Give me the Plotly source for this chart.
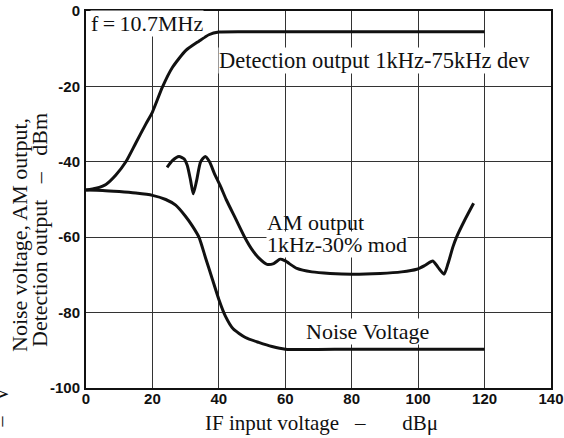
import plotly.graph_objects as go

# ---- data ----
det_x = [0, 3, 6, 9, 12, 15, 18, 20, 23, 26, 30, 34, 37, 40, 50, 60, 80, 100, 120]
det_y = [-47.5, -47.0, -46.0, -43.5, -40.0, -35.0, -30.0, -26.8, -20.2, -15.0, -10.5, -8.0, -6.3, -5.6, -5.5, -5.5, -5.5, -5.5, -5.5]

noise_x = [0, 5, 10, 15, 20, 24, 27, 30, 32, 34, 36, 38, 40, 42, 44.3, 48, 52, 56, 60, 80, 100, 120]
noise_y = [-47.5, -47.6, -47.9, -48.3, -48.9, -50.0, -51.5, -54.5, -57.0, -60.0, -65.5, -71.0, -76.5, -81.0, -84.3, -86.6, -87.9, -89.0, -89.7, -89.7, -89.7, -89.7]

am_x = [24.4, 26, 28, 29.5, 30.5, 31.5, 32.3, 33.3, 34.5, 35.9, 37.2, 38.6, 40.5, 42.2, 45, 47.9, 50, 52,
        54.5, 56.5, 58.5, 60, 63.5, 68, 73.5, 80, 88.6, 95, 99.6, 102, 104.4, 106, 107.8, 109, 110.5,
        111.6, 114, 116.7]
am_y = [-41.5, -39.7, -38.6, -39.2, -41.0, -45.0, -48.5, -45.0, -40.0, -38.6, -40.0, -43.0, -46.5, -50.0,
        -55.0, -60.2, -63.3, -65.5, -67.2, -67.0, -65.8, -66.3, -68.3, -69.2, -69.6, -69.8, -69.6, -69.2,
        -68.5, -67.5, -66.3, -68.0, -69.8, -67.0, -62.5, -59.9, -55.5, -51.0]

x_ticks = [0, 20, 40, 60, 80, 100, 120, 140]
x_tick_labels = ["0", "20", "40", "60", "80", "100", "120", "140"]
y_ticks = [0, -20, -40, -60, -80, -100]
y_tick_labels = ["0", "-20", "-40", "-60", "-80", "-100"]

W, H = 564, 438
ML, MR, MT, MB = 86, 13, 11, 50
PW, PH = W - ML - MR, H - MT - MB


def px_to_paper_x(px):
    return (px - ML) / PW


def px_to_paper_y(py):
    return (H - MB - py) / PH


SERIF = "Liberation Serif, Times New Roman, serif"
LINE = dict(color="#111111", width=3, shape="spline", smoothing=0.6)

fig = go.Figure()
fig.add_trace(go.Scatter(x=det_x, y=det_y, mode="lines", line=LINE, hoverinfo="skip"))
fig.add_trace(go.Scatter(x=noise_x, y=noise_y, mode="lines", line=LINE, hoverinfo="skip"))
fig.add_trace(go.Scatter(x=am_x, y=am_y, mode="lines", line=LINE, hoverinfo="skip"))

axis_common = dict(
    showline=True, linecolor="#111111", linewidth=2, mirror=True, automargin=False,
    showgrid=True, gridcolor="#333333", gridwidth=1, zeroline=False,
    ticks="", tickfont=dict(family="Liberation Sans, Arial, sans-serif", size=15, color="#111111", weight="bold"),
)
fig.update_xaxes(range=[0, 140], tickmode="array", tickvals=x_ticks, ticktext=x_tick_labels,
                 ticklabelstandoff=-4, **axis_common)
fig.update_yaxes(range=[-100, 0], tickmode="array", tickvals=y_ticks, ticktext=y_tick_labels,
                 ticklabelstandoff=1, **axis_common)

anns = []
tf = dict(family=SERIF, size=22, color="#111111")
anns.append(dict(text="f\u2009=\u200910.7MHz", xref="paper", yref="paper",
                 x=px_to_paper_x(90), y=px_to_paper_y(23), xanchor="left", yanchor="middle",
                 showarrow=False, font=tf, bgcolor="white", borderpad=0))
anns.append(dict(text="Detection output 1kHz-75kHz dev", xref="paper", yref="paper",
                 x=px_to_paper_x(218), y=px_to_paper_y(60), xanchor="left", yanchor="middle",
                 showarrow=False, font=dict(family=SERIF, size=22.5, color="#111111"),
                 bgcolor="white", borderpad=0))
anns.append(dict(text="1kHz-30% mod", xref="paper", yref="paper",
                 x=px_to_paper_x(266), y=px_to_paper_y(244), xanchor="left", yanchor="middle",
                 showarrow=False, font=tf, bgcolor="white", borderpad=0))
anns.append(dict(text="AM output", xref="paper", yref="paper",
                 x=px_to_paper_x(266), y=px_to_paper_y(222), xanchor="left", yanchor="middle",
                 showarrow=False, font=tf, borderpad=0))
anns.append(dict(text="Noise Voltage", xref="paper", yref="paper",
                 x=px_to_paper_x(305), y=px_to_paper_y(331), xanchor="left", yanchor="middle",
                 showarrow=False, font=tf, bgcolor="white", borderpad=0))
# x-axis title
anns.append(dict(text="IF input voltage\u2002 \u2013 \u2003\u2002dB\u03bc", xref="paper", yref="paper",
                 x=px_to_paper_x(321), y=px_to_paper_y(423), xanchor="center", yanchor="middle",
                 showarrow=False, font=dict(family=SERIF, size=21, color="#111111")))
# y-axis title (two lines)
yf = dict(family=SERIF, size=22, color="#111111")
anns.append(dict(text="Noise voltage, AM output,", xref="paper", yref="paper",
                 x=px_to_paper_x(19), y=px_to_paper_y(235), xanchor="center", yanchor="middle",
                 textangle=-90, showarrow=False, font=yf))
anns.append(dict(text="Detection output\u2002 \u2013 \u2002dBm", xref="paper", yref="paper",
                 x=px_to_paper_x(39), y=px_to_paper_y(230), xanchor="center", yanchor="middle",
                 textangle=-90, showarrow=False, font=yf))
# cut-off label at the far left edge
anns.append(dict(text="Noise voltage\u2002 \u2013 \u2002V", xref="paper", yref="paper",
                 x=px_to_paper_x(1), y=px_to_paper_y(384), xanchor="center", yanchor="top",
                 textangle=-90, showarrow=False, font=dict(family=SERIF, size=20, color="#111111")))

fig.update_layout(
    width=W, height=H, margin=dict(l=ML, r=MR, t=MT, b=MB, pad=0, autoexpand=False),
    paper_bgcolor="white", plot_bgcolor="white", showlegend=False,
    annotations=anns,
)
fig.write_html("out.html", config={"displayModeBar": False},
               post_script="document.body.style.margin='0';document.body.style.overflow='hidden';")
